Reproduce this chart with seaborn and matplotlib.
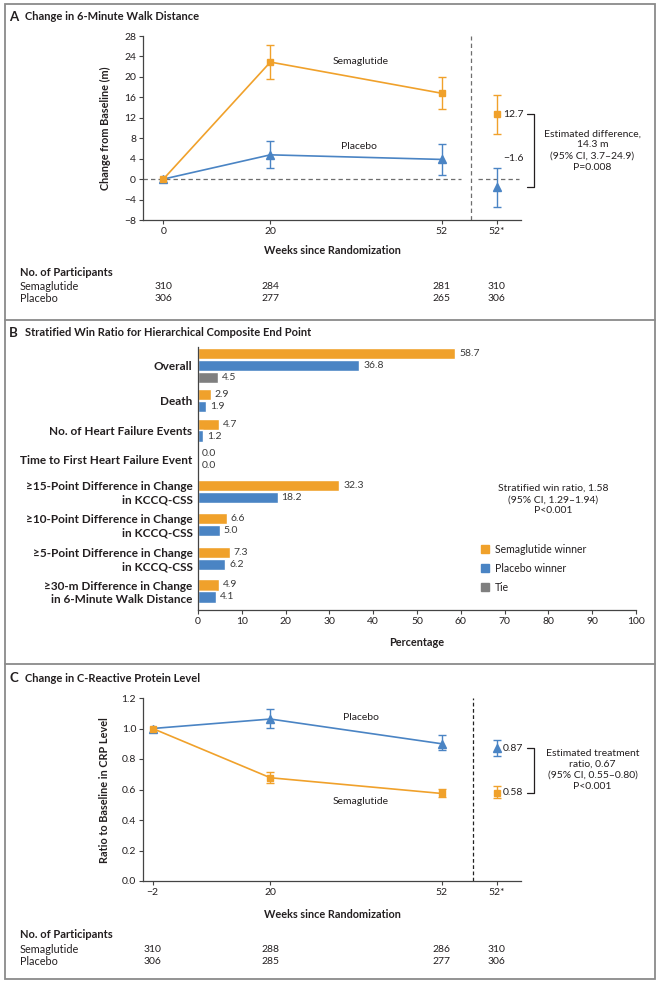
#Script for the three-panel semaglutide figure (walk distance, win ratio, CRP)

import pandas as pd
import matplotlib
matplotlib.use("Agg")
import matplotlib.pyplot as plt
import matplotlib.transforms as mtransforms
from matplotlib.patches import Patch
import seaborn as sns

W, H = 660, 983

ORANGE = "#F0A12B"
BLUE = "#4A84C4"
GREY = "#7F7F7F"
INK = "#231F20"

# Panel A: change in 6-minute walk distance
weeks_a = [0, 20, 52]
sema_walk = [0.0, 22.9, 16.8]
sema_walk_lo = [0.0, 19.6, 13.7]
sema_walk_hi = [0.0, 26.2, 20.0]
placebo_walk = [0.0, 4.75, 3.85]
placebo_walk_lo = [0.0, 2.1, 0.85]
placebo_walk_hi = [0.0, 7.4, 6.85]
est_sema_walk = [12.7, 8.9, 16.4]
est_placebo_walk = [-1.6, -5.4, 2.2]
n_sema_a = [310, 284, 281, 310]
n_placebo_a = [306, 277, 265, 306]

# Panel B: win ratio components
categories = [
    "Overall",
    "Death",
    "No. of Heart Failure Events",
    "Time to First Heart Failure Event",
    "\u226515-Point Difference in Change\nin KCCQ-CSS",
    "\u226510-Point Difference in Change\nin KCCQ-CSS",
    "\u22655-Point Difference in Change\nin KCCQ-CSS",
    "\u226530-m Difference in Change\nin 6-Minute Walk Distance",
]
sema_win = [58.7, 2.9, 4.7, 0.0, 32.3, 6.6, 7.3, 4.9]
placebo_win = [36.8, 1.9, 1.2, 0.0, 18.2, 5.0, 6.2, 4.1]
tie_overall = [4.5]

# Panel C: CRP ratio to baseline
weeks_c = [-2, 20, 52]
placebo_crp = [1.0, 1.062, 0.90]
placebo_crp_lo = [1.0, 1.005, 0.86]
placebo_crp_hi = [1.0, 1.13, 0.96]
sema_crp = [1.0, 0.677, 0.574]
sema_crp_lo = [1.0, 0.644, 0.548]
sema_crp_hi = [1.0, 0.716, 0.605]
est_placebo_crp = [0.87, 0.82, 0.924]
est_sema_crp = [0.58, 0.541, 0.622]
n_sema_c = [310, 288, 286, 310]
n_placebo_c = [306, 285, 277, 306]

STAR_X = 62.3      # where the adjusted 52-week estimate sits
SPLIT_X = 57.4     # vertical dashed divider


def px_axes(fig, left, top, right, bottom):
    #Add axes given pixel edges of the figure.
    return fig.add_axes([left / W, 1 - bottom / H, (right - left) / W, (bottom - top) / H])


def style_axes(ax):
    sns.despine(ax=ax)
    for s in ["left", "bottom"]:
        ax.spines[s].set_color("#444444")
        ax.spines[s].set_linewidth(0.9)
    ax.tick_params(length=3, width=0.8, color="#444444", labelsize=7.5,
                   labelcolor=INK, pad=2)


def line_panel(ax, weeks, sema, s_lo, s_hi, plac, p_lo, p_hi, est_s, est_p):
    #Lines through seaborn, markers and CIs through errorbar.
    df = pd.DataFrame({
        "week": weeks * 2,
        "value": plac + sema,
        "arm": ["Placebo"] * 3 + ["Semaglutide"] * 3,
    })
    sns.lineplot(data=df, x="week", y="value", hue="arm",
                 palette={"Placebo": BLUE, "Semaglutide": ORANGE},
                 hue_order=["Placebo", "Semaglutide"],
                 lw=1.2, legend=False, ax=ax)
    for vals, lo, hi, e, color, mk, ms in [
        (plac, p_lo, p_hi, est_p, BLUE, "^", 6),
        (sema, s_lo, s_hi, est_s, ORANGE, "s", 5),
    ]:
        xs = weeks[1:] + [STAR_X]
        ys = vals[1:] + [e[0]]
        los = lo[1:] + [e[1]]
        his = hi[1:] + [e[2]]
        yerr = [[y - l for y, l in zip(ys, los)], [h - y for y, h in zip(ys, his)]]
        ax.errorbar(xs, ys, yerr=yerr, fmt="none", ecolor=color, elinewidth=1,
                    capsize=3, capthick=1, zorder=3)
        ax.plot([weeks[0]] + xs, [vals[0]] + ys, ls="none", marker=mk,
                ms=ms, color=color, zorder=4)
    ax.set_xlim(-3.8, 90)
    ax.set_xticks(weeks + [STAR_X])
    ax.set_xticklabels([str(w).replace("-", "\u2212") for w in weeks] + ["52*"])
    ax.set_xlabel("")
    ax.set_ylabel("")
    style_axes(ax)
    ax.spines["bottom"].set_bounds(-3.8, 66.8)


def participants(fig, ax, tr, y0, n_sema, n_plac, weeks):
    fig.text(20, y0, "No. of Participants", transform=tr, fontsize=8,
             fontweight="bold", color=INK, va="center")
    fig.text(20, y0 + 14.5, "Semaglutide", transform=tr, fontsize=7.8, color=INK, va="center")
    fig.text(20, y0 + 26.5, "Placebo", transform=tr, fontsize=7.8, color=INK, va="center")
    bt = mtransforms.blended_transform_factory(ax.transData, tr)
    for x, a, b in zip(weeks + [STAR_X], n_sema, n_plac):
        fig.text(x, y0 + 14.5, str(a), transform=bt, fontsize=7.5, color=INK,
                 ha="center", va="center")
        fig.text(x, y0 + 26.5, str(b), transform=bt, fontsize=7.5, color=INK,
                 ha="center", va="center")


def bracket(ax, top, bottom, top_txt, bot_txt, bot_txt_y, note, note_y):
    ax.plot([68.0, 69.2, 69.2, 68.0], [top, top, bottom, bottom], color=INK,
            lw=0.9, clip_on=False)
    ax.text(65.4, top, top_txt, fontsize=7.5, color=INK, ha="center", va="center")
    ax.text(65.4, bot_txt_y, bot_txt, fontsize=7.5, color=INK, ha="center", va="center")
    ax.text(80.2, note_y, note, fontsize=7.5, color=INK, ha="center", va="center",
            linespacing=1.3)


sns.set_style("ticks")
plt.rcParams["font.family"] = ["Lato", "DejaVu Sans"]

fig = plt.figure(figsize=(W / 100, H / 100), dpi=100)
px = mtransforms.Affine2D().scale(1 / W, -1 / H).translate(0, 1) + fig.transFigure

# panel frames
fig.add_artist(plt.Rectangle((5, 4), 650, 975, transform=px, fill=False,
                             ec="#8A8A8A", lw=1.3))
for yy in [320, 664]:
    fig.add_artist(plt.Line2D([5, 655], [yy, yy], transform=px, color="#8A8A8A", lw=1.3))

for y, letter, title in [(17, "A", "Change in 6-Minute Walk Distance"),
                         (333, "B", "Stratified Win Ratio for Hierarchical Composite End Point"),
                         (678, "C", "Change in C-Reactive Protein Level")]:
    fig.text(9, y, letter, transform=px, fontsize=9.5, fontweight="bold", color=INK, va="center")
    fig.text(25, y, title, transform=px, fontsize=8, fontweight="bold", color=INK, va="center")

# ---- Panel A
ax_a = px_axes(fig, 143, 36, 645, 220)
line_panel(ax_a, weeks_a, sema_walk, sema_walk_lo, sema_walk_hi,
           placebo_walk, placebo_walk_lo, placebo_walk_hi, est_sema_walk, est_placebo_walk)
ax_a.set_ylim(-8, 28)
ax_a.set_yticks(range(-8, 29, 4))
ax_a.set_yticklabels([str(v).replace("-", "\u2212") for v in range(-8, 29, 4)])
ax_a.plot([-3.8, SPLIT_X - 1.8], [0, 0], color="#6E6E6E", lw=0.9, ls=(0, (3.5, 2.5)), zorder=1)
ax_a.plot([SPLIT_X + 1.4, 66.5], [0, 0], color="#6E6E6E", lw=0.9, ls=(0, (3.5, 2.5)), zorder=1)
ax_a.plot([SPLIT_X, SPLIT_X], [-8, 28], color="#6E6E6E", lw=0.9, ls=(0, (3.5, 2.5)))
ax_a.text(36.8, 23.1, "Semaglutide", fontsize=7.5, color=INK, ha="center", va="center")
ax_a.text(36.6, 6.3, "Placebo", fontsize=7.5, color=INK, ha="center", va="center")
bracket(ax_a, 12.7, -1.6, "12.7", "\u22121.6", 4.1,
        "Estimated difference,\n14.3 m\n(95% CI, 3.7\u201324.9)\nP=0.008", 5.6)
fig.text(105, 128, "Change from Baseline (m)", transform=px, rotation=90, fontsize=7.8,
         fontweight="bold", color=INK, ha="center", va="center")
fig.text(332, 251, "Weeks since Randomization", transform=px, fontsize=7.8,
         fontweight="bold", color=INK, ha="center", va="center")
participants(fig, ax_a, px, 272, n_sema_a, n_placebo_a, weeks_a)

# ---- Panel B
group_start = [0, 3.4, 5.9, 8.35, 11.0, 13.75, 16.6, 19.3]
rows = []
for i, cat in enumerate(categories):
    rows.append({"pos": group_start[i], "pct": sema_win[i], "series": "Semaglutide winner"})
    rows.append({"pos": group_start[i] + 1, "pct": placebo_win[i], "series": "Placebo winner"})
rows.append({"pos": 2, "pct": tie_overall[0], "series": "Tie"})
df_b = pd.DataFrame(rows)
pal_b = {"Semaglutide winner": ORANGE, "Placebo winner": BLUE, "Tie": GREY}

ax_b = px_axes(fig, 198, 347, 636, 610)
sns.barplot(data=df_b, x="pct", y="pos", hue="series", palette=pal_b, orient="y",
            native_scale=True, dodge=False, width=0.95, errorbar=None,
            saturation=1, legend=False, ax=ax_b)
for _, r in df_b.iterrows():
    ax_b.text(r["pct"] + 0.9, r["pos"], f"{r['pct']:.1f}", fontsize=7.5, color="#3A3A3A",
              ha="left", va="center")
ax_b.set_xlim(0, 100)
ax_b.set_ylim(21.4, -0.54)
ax_b.set_xticks(range(0, 101, 10))
centers = [1.0] + [g + 0.5 for g in group_start[1:]]
ax_b.set_yticks(centers)
ax_b.set_yticklabels(categories, fontweight="bold", linespacing=1.2)
ax_b.set_xlabel("")
ax_b.set_ylabel("")
style_axes(ax_b)
ax_b.tick_params(axis="y", length=0, pad=4, labelsize=8.5)
ax_b.text(81.1, 12.2, "Stratified win ratio, 1.58\n(95% CI, 1.29\u20131.94)\nP<0.001",
          fontsize=7.5, color=INK, ha="center", va="center", linespacing=1.3)
handles = [Patch(color=pal_b[k]) for k in pal_b]
fig.legend(handles, list(pal_b), loc="upper left", bbox_to_anchor=(481 / W, 1 - 544 / H),
           frameon=False, fontsize=7.6, handlelength=0.75, handleheight=0.75,
           handletextpad=0.6, labelspacing=0.75, borderpad=0, borderaxespad=0,
           labelcolor=INK)
fig.text(417, 642, "Percentage", transform=px, fontsize=7.8, fontweight="bold",
         color=INK, ha="center", va="center")

# ---- Panel C
ax_c = px_axes(fig, 143, 698, 645, 881)
line_panel(ax_c, weeks_c, sema_crp, sema_crp_lo, sema_crp_hi,
           placebo_crp, placebo_crp_lo, placebo_crp_hi, est_sema_crp, est_placebo_crp)
ax_c.set_ylim(0, 1.2)
ax_c.set_yticks([0, 0.2, 0.4, 0.6, 0.8, 1.0, 1.2])
ax_c.set_yticklabels([f"{v:.1f}" for v in [0, 0.2, 0.4, 0.6, 0.8, 1.0, 1.2]])
ax_c.plot([57.9, 57.9], [0, 1.2], color="#222222", lw=0.9, ls=(0, (3, 2)))
ax_c.text(36.9, 1.07, "Placebo", fontsize=7.5, color=INK, ha="center", va="center")
ax_c.text(36.9, 0.52, "Semaglutide", fontsize=7.5, color=INK, ha="center", va="center")
bracket(ax_c, 0.87, 0.58, "0.87", "0.58", 0.58,
        "Estimated treatment\nratio, 0.67\n(95% CI, 0.55\u20130.80)\nP<0.001", 0.73)
fig.text(105, 790, "Ratio to Baseline in CRP Level", transform=px, rotation=90, fontsize=7.8,
         fontweight="bold", color=INK, ha="center", va="center")
fig.text(332, 914, "Weeks since Randomization", transform=px, fontsize=7.8,
         fontweight="bold", color=INK, ha="center", va="center")
participants(fig, ax_c, px, 935, n_sema_c, n_placebo_c, weeks_c)

fig.savefig("out.png", dpi=100)
print("Figure saved to out.png")
